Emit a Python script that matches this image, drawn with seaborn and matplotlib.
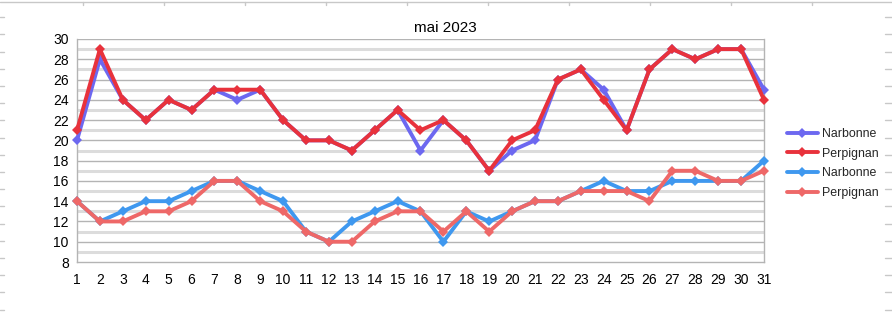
import matplotlib
matplotlib.use("Agg")
import matplotlib.pyplot as plt
from matplotlib.lines import Line2D
import seaborn as sns
import pandas as pd

# Daily temperatures, May 2023 (°C)
days = list(range(1, 32))
narbonne_max = [20, 28, 24, 22, 24, 23, 25, 24, 25, 22, 20, 20, 19, 21, 23, 19,
                22, 20, 17, 19, 20, 26, 27, 25, 21, 27, 29, 28, 29, 29, 25]
perpignan_max = [21, 29, 24, 22, 24, 23, 25, 25, 25, 22, 20, 20, 19, 21, 23, 21,
                 22, 20, 17, 20, 21, 26, 27, 24, 21, 27, 29, 28, 29, 29, 24]
narbonne_min = [14, 12, 13, 14, 14, 15, 16, 16, 15, 14, 11, 10, 12, 13, 14, 13,
                10, 13, 12, 13, 14, 14, 15, 16, 15, 15, 16, 16, 16, 16, 18]
perpignan_min = [14, 12, 12, 13, 13, 14, 16, 16, 14, 13, 11, 10, 10, 12, 13, 13,
                 11, 13, 11, 13, 14, 14, 15, 15, 15, 14, 17, 17, 16, 16, 17]
series_labels = ["Narbonne", "Perpignan", "Narbonne", "Perpignan"]
series_colors = ["#6d68f0", "#e8323c", "#3f98ef", "#ee6868"]
title = "mai 2023"

sns.set_theme(style="white")
plt.rcParams["font.family"] = ["Liberation Sans", "DejaVu Sans"]

W, H = 892, 324
fig = plt.figure(figsize=(W / 100, H / 100), dpi=100)
fig.patch.set_facecolor("white")

left, right, top, bottom = 77, 764, 39, 262
ax = fig.add_axes([left / W, 1 - bottom / H, (right - left) / W, (bottom - top) / H])

# Horizontal grid: light bands at odd values, thin darker lines at even values
for v in range(9, 30, 2):
    ax.axhline(v, color="#dcdcdc", lw=2.2, zorder=0)
for v in range(10, 31, 2):
    ax.axhline(v, color="#b4b4b4", lw=1.0, zorder=0)

all_series = [narbonne_max, perpignan_max, narbonne_min, perpignan_min]
for vals, lab, col in zip(all_series, series_labels, series_colors):
    df = pd.DataFrame({"jour": days, "temp": vals})
    sns.lineplot(data=df, x="jour", y="temp", ax=ax, color=col, lw=2.8,
                 marker="D", markersize=5, markeredgewidth=0,
                 label=lab, legend=False, zorder=3, clip_on=False)

ax.set_xlim(1, 31)
ax.set_ylim(8, 30)
ax.set_xticks(days)
ax.set_yticks(range(8, 31, 2))
ax.set_xlabel("")
ax.set_ylabel("")
ax.tick_params(axis="both", labelsize=10, colors="#000000", length=4,
               width=1, color="#b4b4b4", pad=2, direction="out")
ax.tick_params(axis="x", pad=4)

ax.spines["top"].set_visible(False)
for s in ["left", "bottom", "right"]:
    ax.spines[s].set_color("#b4b4b4")
    ax.spines[s].set_linewidth(1.0)

fig.text(445 / W, 1 - 28 / H, title, fontsize=11, ha="center", va="center",
         color="#000000")

handles = [Line2D([0], [0], color=c, lw=2.8, marker="D", markersize=5,
                  markeredgewidth=0) for c in series_colors]
fig.legend(handles, series_labels, loc="upper left",
           bbox_to_anchor=(787 / W, 1 - 128 / H), frameon=False,
           fontsize=8.9, handlelength=2.5, handletextpad=0.35,
           labelspacing=0.62, borderaxespad=0, borderpad=0)

# Spreadsheet cell boundaries around the chart object
fig.add_artist(Line2D([0, 1], [1 - 1.5 / H, 1 - 1.5 / H],
                      transform=fig.transFigure, color="#c8c8c8", lw=1))
for x in range(83, W, 81):
    fig.add_artist(Line2D([x / W, x / W], [1 - 1.5 / H, 1 - 5 / H],
                          transform=fig.transFigure, color="#c8c8c8", lw=1))
y = 17.2
while y < H:
    fig.add_artist(Line2D([0, 4 / W], [1 - y / H, 1 - y / H],
                          transform=fig.transFigure, color="#c8c8c8", lw=1))
    fig.add_artist(Line2D([885 / W, 1], [1 - y / H, 1 - y / H],
                          transform=fig.transFigure, color="#c8c8c8", lw=1))
    y += 17.2

fig.savefig("out.png", dpi=100, facecolor="white")
